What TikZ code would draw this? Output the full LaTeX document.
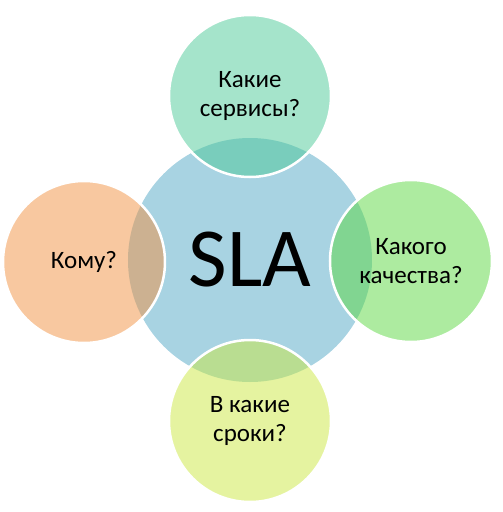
\documentclass[tikz,border=0pt]{standalone}
\usepackage{fontspec}
\setmainfont{Carlito}
\definecolor{slablue}{RGB}{168,211,226}
\definecolor{mintq}{RGB}{75,201,151}
\definecolor{greenq}{RGB}{91,215,65}
\definecolor{limeq}{RGB}{203,231,65}
\definecolor{orangeq}{RGB}{241,145,65}

\begin{document}
\begin{tikzpicture}[x=1pt,y=1pt,
	bubble/.style={circle,draw=white,line width=2.5pt,minimum size=162pt,inner sep=0pt,
		fill opacity=0.5,draw opacity=1,text opacity=1,align=center,
		font=\fontsize{25}{29}\selectfont}]

	% frame

	\useasboundingbox (-250,-252) rectangle (253,260);

	% central circle

	\node[circle,fill=slablue,minimum size=244pt,inner sep=0pt,font=\fontsize{84}{84}\selectfont] (sla) at (0,0) {SLA};

	% questions around it

	\node[bubble,fill=mintq] (services) at (0,164) {Какие\\сервисы?};
	\node[bubble,fill=greenq] (quality) at (161,-1) {Какого\\качества?};
	\node[bubble,fill=limeq] (terms) at (0,-161) {В какие\\сроки?};
	\node[bubble,fill=orangeq] (whom) at (-166,-2) {Кому?};

\end{tikzpicture}
\end{document}
